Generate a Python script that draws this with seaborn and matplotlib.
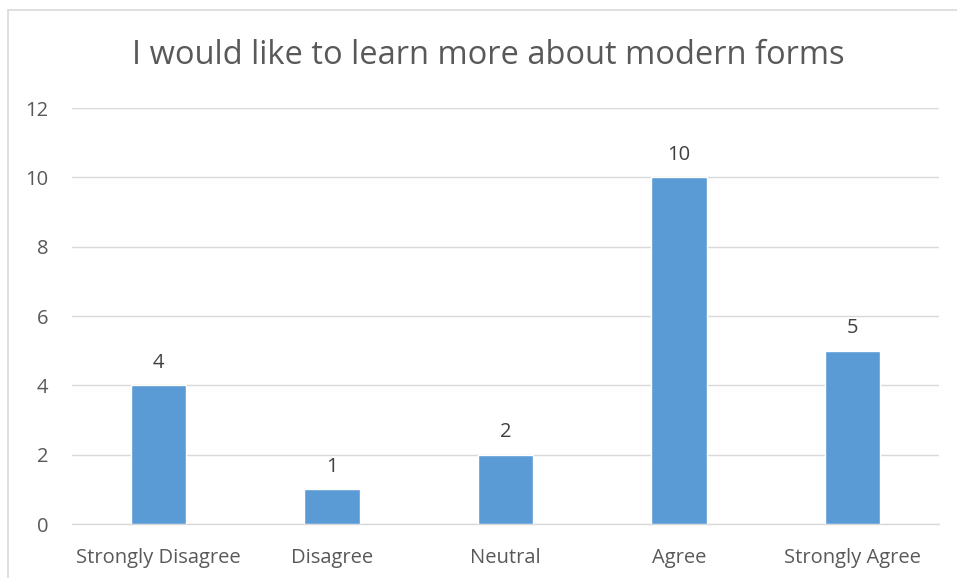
import matplotlib
matplotlib.use("Agg")
import matplotlib.pyplot as plt
import seaborn as sns
import pandas as pd
from matplotlib.lines import Line2D

categories = ["Strongly Disagree", "Disagree", "Neutral", "Agree", "Strongly Agree"]
values = [4, 1, 2, 10, 5]
yticks = [0, 2, 4, 6, 8, 10, 12]
title = "I would like to learn more about modern forms"

sns.set_theme(style="white")
plt.rcParams['font.family'] = ['Open Sans', 'DejaVu Sans']

df = pd.DataFrame({"cat": categories, "val": values})

fig = plt.figure(figsize=(9.57, 5.78), dpi=100)
ax = fig.add_axes([72/957, 1-524/578, (939-72)/957, (524-108)/578])

sns.barplot(data=df, x="cat", y="val", color="#5b9bd5", width=0.32, saturation=1, ax=ax, zorder=3)

ax.set_ylim(0, 12)
ax.set_xlim(-0.5, len(categories)-0.5)
ax.set_yticks(yticks)
ax.yaxis.grid(True, color="#d9d9d9", linewidth=1, zorder=0)
ax.xaxis.grid(False)
for s in ["top", "right", "left"]:
    ax.spines[s].set_visible(False)
ax.spines["bottom"].set_color("#d9d9d9")
ax.spines["bottom"].set_linewidth(1)
ax.tick_params(axis="both", length=0, labelsize=14.5, colors="#595959")
ax.tick_params(axis="y", pad=17)
ax.tick_params(axis="x", pad=17)
ax.set_xlabel("")
ax.set_ylabel("")

for i, v in enumerate(values):
    ax.text(i, v + 0.36, str(v), ha="center", va="bottom", fontsize=14.5, color="#404040")

fig.text(488/957, 1-56/578, title, ha="center", va="center", fontsize=23.5, color="#595959")

fig.lines.append(Line2D([8/957, 8/957], [0, 1-10/578], transform=fig.transFigure, color="#d9d9d9", linewidth=1.2))
fig.lines.append(Line2D([8/957, 1], [1-10/578, 1-10/578], transform=fig.transFigure, color="#d9d9d9", linewidth=1.2))

fig.savefig("out.png", dpi=100)
